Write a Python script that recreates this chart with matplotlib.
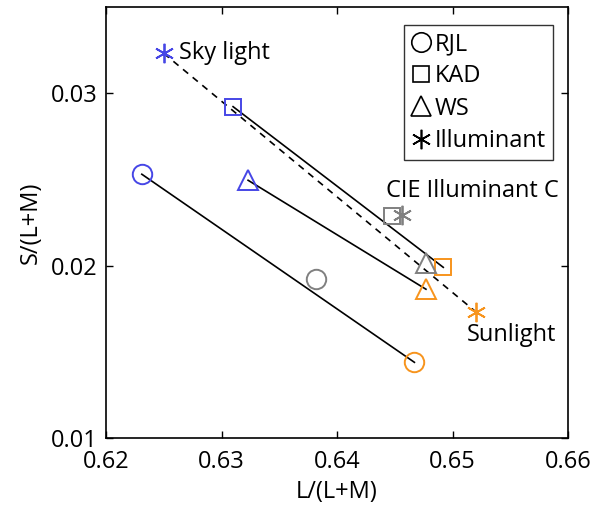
import numpy as np
import matplotlib.pyplot as plt
from matplotlib.lines import Line2D

plt.rcParams['font.family'] = ['Open Sans', 'DejaVu Sans']

# chromaticity coordinates: (sky, sun, illuminant C) for each observer
observers = ["RJL", "KAD", "WS"]
markers = ["o", "s", "^"]
sky_x = [0.6231, 0.6310, 0.6323]
sky_y = [0.02530, 0.02922, 0.02495]
sun_x = [0.6467, 0.6492, 0.6477]
sun_y = [0.01439, 0.01990, 0.01863]
illc_x = [0.6382, 0.6448, 0.6477]
illc_y = [0.01922, 0.02289, 0.02017]

# illuminants
skylight = (0.6250, 0.03231)
sunlight = (0.6520, 0.01733)
cie_c = (0.6456, 0.02293)

blue = "#4646e6"
orange = "#f7941d"
gray = "#808080"
msizes = {"o": 14, "s": 11.5, "^": 15}
star = (6, 2, 0)
fs = 17

fig = plt.figure(figsize=(6, 5.08), dpi=100)
ax = fig.add_axes([0.1767, 0.1378, 0.77, 0.8484])

ax.plot([skylight[0], sunlight[0]], [skylight[1], sunlight[1]], "k--", lw=1.2, dashes=(4, 3.5))
for i in range(3):
    ax.plot([sky_x[i], sun_x[i]], [sky_y[i], sun_y[i]], "k-", lw=1.2)

for i, m in enumerate(markers):
    ms = msizes[m]
    ax.plot(sky_x[i], sky_y[i], m, mfc="none", mec=blue, ms=ms, mew=1.4)
    ax.plot(sun_x[i], sun_y[i], m, mfc="none", mec=orange, ms=ms, mew=1.4)
    ax.plot(illc_x[i], illc_y[i], m, mfc="none", mec=gray, ms=ms, mew=1.4)

ax.plot(*skylight, marker=star, color=blue, ms=14, mew=1.3, ls="none")
ax.plot(*sunlight, marker=star, color=orange, ms=14, mew=1.3, ls="none")
ax.plot(*cie_c, marker=star, color=gray, ms=14, mew=1.3, ls="none")

ax.text(0.6263, 0.03231, "Sky light", fontsize=fs, va="center", ha="left")
ax.text(0.6442, 0.02433, "CIE Illuminant C", fontsize=fs, va="center", ha="left")
ax.text(0.6512, 0.01597, "Sunlight", fontsize=fs, va="center", ha="left")

ax.set_xlim(0.62, 0.66)
ax.set_ylim(0.01, 0.035)
ax.set_xticks([0.62, 0.63, 0.64, 0.65, 0.66])
ax.set_yticks([0.01, 0.02, 0.03])
ax.set_xticklabels(["0.62", "0.63", "0.64", "0.65", "0.66"])
ax.set_yticklabels(["0.01", "0.02", "0.03"])
ax.tick_params(direction="in", top=True, right=True, length=5, width=1, labelsize=fs)
ax.tick_params(axis="x", pad=9)
ax.tick_params(axis="y", pad=6)
for s in ax.spines.values():
    s.set_linewidth(1.2)
ax.set_xlabel("L/(L+M)", fontsize=fs, labelpad=4)
ax.set_ylabel("S/(L+M)", fontsize=fs, labelpad=6)

handles = [Line2D([], [], marker=m, ls="none", mfc="none", mec="k", ms=msizes[m], mew=1.2) for m in markers]
handles.append(Line2D([], [], marker=star, ls="none", color="k", ms=14, mew=1.2))
leg = ax.legend(handles, observers + ["Illuminant"], loc="upper right", fontsize=fs,
                frameon=True, fancybox=False, edgecolor="k", handlelength=0.8,
                handletextpad=0.2, borderpad=0.3, labelspacing=0.35,
                borderaxespad=0, bbox_to_anchor=(0.9675, 0.958))
leg.get_frame().set_linewidth(1.0)

fig.savefig("out.png", dpi=100)
